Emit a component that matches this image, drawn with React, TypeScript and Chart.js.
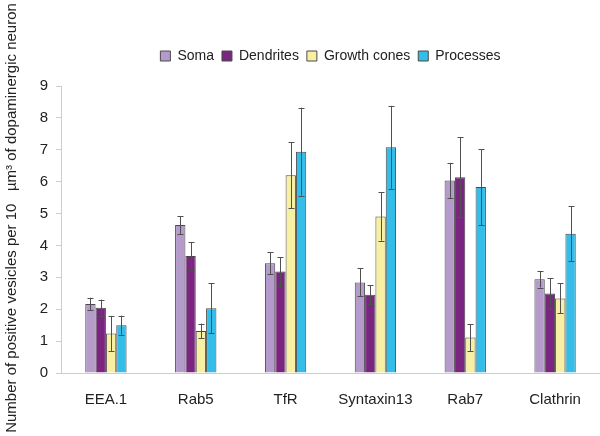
import React, { useEffect, useRef } from "react";
import { Chart, registerables } from "chart.js";

Chart.register(...registerables);

const categories = ["EEA.1", "Rab5", "TfR", "Syntaxin13", "Rab7", "Clathrin"];
const seriesNames = ["Soma", "Dendrites", "Growth cones", "Processes"];
const somaValues = [2.16, 4.64, 3.44, 2.84, 6.04, 2.94];
const somaErrors = [0.2, 0.28, 0.35, 0.44, 0.55, 0.26];
const dendritesValues = [2.05, 3.67, 3.18, 2.45, 6.14, 2.49];
const dendritesErrors = [0.25, 0.43, 0.45, 0.3, 1.25, 0.48];
const growthValues = [1.24, 1.32, 6.2, 4.91, 1.11, 2.34];
const growthErrors = [0.55, 0.23, 1.04, 0.76, 0.42, 0.47];
const processesValues = [1.5, 2.03, 6.94, 7.08, 5.83, 4.37];
const processesErrors = [0.3, 0.78, 1.38, 1.3, 1.19, 0.86];
const seriesColors = ["#b59bcb", "#7a2680", "#f7f0a2", "#35bde9"];
const yTicks = [0, 1, 2, 3, 4, 5, 6, 7, 8, 9];
const yTitle = "Number of positive vesicles per 10   \u00b5m\u00b3 of dopaminergic neuron";

const FONT = "Liberation Sans, Arial";

const errorBarPlugin = {
  id: "errorBars",
  afterDatasetsDraw(chart: any) {
    const ctx = chart.ctx;
    const yScale = chart.scales.y;
    ctx.save();
    ctx.strokeStyle = "#505050";
    ctx.lineWidth = 1;
    chart.data.datasets.forEach((ds: any, i: number) => {
      const meta = chart.getDatasetMeta(i);
      meta.data.forEach((bar: any, j: number) => {
        const v = ds.data[j];
        const e = ds.errors[j];
        const x = Math.round(bar.x) + 0.5;
        const yTop = yScale.getPixelForValue(v + e);
        const yBot = yScale.getPixelForValue(v - e);
        ctx.beginPath();
        ctx.moveTo(x, yTop);
        ctx.lineTo(x, yBot);
        ctx.moveTo(x - 3, Math.round(yTop) + 0.5);
        ctx.lineTo(x + 3, Math.round(yTop) + 0.5);
        ctx.moveTo(x - 3, Math.round(yBot) + 0.5);
        ctx.lineTo(x + 3, Math.round(yBot) + 0.5);
        ctx.stroke();
      });
    });
    ctx.restore();
  },
};

const legendGapPlugin = {
  id: "legendGap",
  beforeInit(chart: any) {
    const origFit = chart.legend.fit;
    chart.legend.fit = function () {
      origFit.bind(chart.legend)();
      this.height += 13;
    };
  },
};

const yTitlePlugin = {
  id: "yTitle",
  afterDraw(chart: any) {
    const ctx = chart.ctx;
    ctx.save();
    ctx.translate(12, chart.height / 2);
    ctx.rotate(-Math.PI / 2);
    ctx.font = `15px ${FONT}`;
    ctx.fillStyle = "#222";
    ctx.textAlign = "center";
    ctx.textBaseline = "middle";
    ctx.fillText(yTitle, 0, 0);
    ctx.restore();
  },
};

export default function App() {
  const ref = useRef<HTMLCanvasElement>(null);
  useEffect(() => {
    document.body.style.margin = "0";
    const values = [somaValues, dendritesValues, growthValues, processesValues];
    const errors = [somaErrors, dendritesErrors, growthErrors, processesErrors];
    const chart = new Chart(ref.current as HTMLCanvasElement, {
      type: "bar",
      data: {
        labels: categories,
        datasets: seriesNames.map((name, i) => ({
          label: name,
          data: values[i],
          errors: errors[i],
          backgroundColor: seriesColors[i],
          borderColor: "#4a4a4a",
          borderWidth: 1,
          categoryPercentage: 0.46,
          barPercentage: 1.0,
        })) as any,
      },
      options: {
        responsive: false,
        animation: false,
        layout: { padding: { top: 41, right: 0, bottom: 9, left: 0 } },
        plugins: {
          legend: {
            display: true,
            position: "top",
            fullSize: false,
            labels: {
              boxWidth: 10,
              boxHeight: 10,
              padding: 8,
              color: "#222",
              font: { family: FONT, size: 14 },
            },
          },
          tooltip: { enabled: false },
        },
        scales: {
          x: {
            grid: { display: false, drawTicks: false },
            border: { color: "#cccccc" },
            ticks: {
              color: "#222",
              padding: 18,
              font: { family: FONT, size: 15 },
            },
          },
          y: {
            min: 0,
            max: 9,
            afterBuildTicks: (scale: any) => {
              scale.ticks = yTicks.map((v) => ({ value: v }));
            },
            afterFit: (scale: any) => {
              scale.width = 61;
            },
            grid: { drawOnChartArea: false, tickLength: 5, color: "#cccccc" },
            border: { color: "#cccccc" },
            ticks: {
              color: "#222",
              padding: 8,
              font: { family: FONT, size: 15 },
            },
            title: { display: false },
          },
        },
      },
      plugins: [errorBarPlugin, legendGapPlugin, yTitlePlugin],
    });
    return () => chart.destroy();
  }, []);
  return (
    <div style={{ width: 600, height: 436, background: "#fff" }}>
      <canvas ref={ref} width={600} height={436} />
    </div>
  );
}
